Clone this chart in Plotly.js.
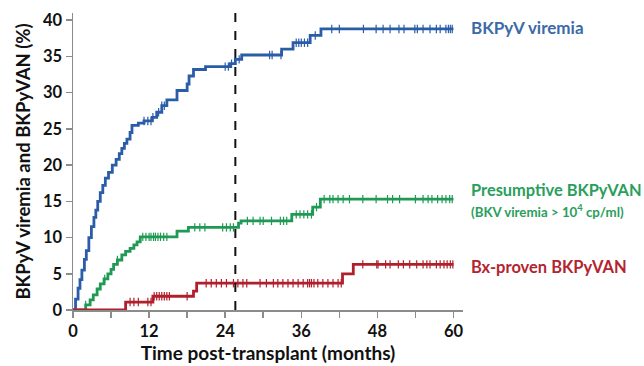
<!DOCTYPE html>
<html>
<head>
<meta charset="utf-8">
<script src="https://cdn.plot.ly/plotly-3.0.1.min.js"></script>
<style>
  html, body { margin: 0; padding: 0; background: #fff; }
  #chart { width: 644px; height: 366px; }
</style>
</head>
<body>
<div id="chart"></div>
<script>
// Cumulative incidence (%) after kidney transplant, step curves with censoring ticks.
const followUpEnd = 60;
const landmarkMonth = 25.6;

// BKPyV viremia
const viremiaTimes = [0, 0.4, 0.8, 1.1, 1.4, 1.8, 2.1, 2.5, 2.9, 3.3, 3.6, 3.9, 4.3, 4.7, 5.1, 5.6, 6.2, 6.8, 7.3, 7.7, 8.1, 8.5, 9.0, 9.3, 10.3, 11.2, 12.5, 13.2, 14.0, 14.8, 16.4, 18.0, 18.3, 19.0, 20.9, 24.8, 25.6, 26.6, 32.9, 34.7, 37.4, 39.1];
const viremiaPct   = [0, 1.5, 3.0, 4.2, 5.5, 7.0, 8.2, 10.0, 11.5, 12.8, 13.8, 15.0, 16.2, 17.2, 18.2, 19.0, 20.0, 20.8, 21.6, 22.3, 23.0, 23.6, 24.5, 25.5, 25.8, 26.1, 26.6, 27.3, 28.2, 29.0, 30.3, 31.2, 32.3, 33.2, 33.6, 34.0, 34.6, 35.2, 36.0, 36.9, 37.9, 38.8];
const viremiaCensored = [11.2, 11.8, 12.3, 12.6, 13.5, 14.0, 14.4, 24.0, 24.5, 25.0, 26.2, 31.0, 31.4, 32.8, 35.2, 35.6, 36.0, 36.5, 37.0, 38.2, 40.8, 42.0, 45.8, 47.8, 48.9, 50.0, 51.4, 52.2, 53.9, 54.3, 55.2, 56.3, 57.3, 57.9, 58.8, 59.2, 59.5, 59.8];

// Presumptive BKPyVAN
const presumptiveTimes = [0, 1.4, 2.0, 2.7, 3.2, 3.8, 4.3, 4.9, 5.5, 6.0, 6.4, 7.0, 7.7, 8.3, 9.0, 9.6, 10.1, 10.6, 16.4, 18.2, 26.1, 26.5, 34.5, 37.8, 39.0];
const presumptivePct   = [0, 0, 0.7, 1.4, 2.1, 2.9, 3.6, 4.3, 5.0, 5.6, 6.3, 6.9, 7.6, 8.1, 8.5, 9.0, 9.4, 10.1, 10.9, 11.4, 12.0, 12.3, 13.2, 14.2, 15.3];
const presumptiveCensored = [2.0, 5.0, 7.0, 11.0, 11.5, 12.0, 12.3, 12.7, 13.0, 13.4, 13.8, 14.3, 14.8, 19.2, 20.0, 20.8, 23.6, 24.2, 24.8, 25.3, 27.5, 28.4, 29.5, 30.0, 31.3, 32.7, 33.2, 33.7, 35.2, 35.8, 36.4, 37.0, 37.6, 38.4, 39.6, 40.5, 41.0, 41.8, 42.6, 43.6, 45.7, 47.8, 49.6, 50.4, 51.5, 54.0, 55.2, 56.0, 56.6, 57.5, 58.2, 58.8, 59.4, 59.8];

// Biopsy-proven BKPyVAN
const provenTimes = [0, 8.3, 12.6, 19.0, 19.5, 42.5, 44.2];
const provenPct   = [0, 1.1, 1.9, 2.6, 3.7, 5.0, 6.3];
const provenCensored = [9.0, 9.6, 10.3, 11.8, 12.3, 12.8, 13.2, 13.6, 14.0, 14.4, 14.8, 15.2, 18.0, 21.0, 21.8, 22.6, 23.4, 24.2, 25.3, 26.0, 26.8, 27.4, 29.5, 30.5, 31.6, 32.3, 33.1, 33.9, 34.7, 35.5, 36.3, 37.0, 37.3, 37.6, 38.0, 38.6, 39.4, 40.2, 41.0, 41.8, 42.3, 45.7, 47.9, 48.1, 49.3, 50.0, 51.3, 52.1, 53.1, 54.2, 55.2, 55.8, 56.3, 57.3, 57.9, 58.5, 59.0, 59.5, 59.9];

const seriesNames = ['BKPyV viremia', 'Presumptive BKPyVAN', 'Bx-proven BKPyVAN'];
const colors = ['#2a5ca8', '#1f9a55', '#b0202c'];
const labelColors = ['#3b6aa6', '#2a9e5c', '#b3242f'];

// value of a right-continuous step function at time t
function stepAt(times, vals, t) {
  let v = vals[0];
  for (let i = 0; i < times.length; i++) { if (times[i] <= t) v = vals[i]; }
  return v;
}

function curveTraces(times, vals, censored, color, name) {
  const xs = times.concat([followUpEnd]);
  const ys = vals.concat([vals[vals.length - 1]]);
  return [
    { x: xs, y: ys, type: 'scatter', mode: 'lines', name: name,
      line: { shape: 'hv', color: color, width: 2.8 }, hoverinfo: 'x+y' },
    { x: censored, y: censored.map(t => stepAt(times, vals, t)), type: 'scatter', mode: 'markers',
      name: name + ' (censored)',
      marker: { symbol: 'line-ns-open', size: 6, color: color, line: { color: color, width: 1.2 } },
      hoverinfo: 'x' }
  ];
}

const data = [].concat(
  curveTraces(viremiaTimes, viremiaPct, viremiaCensored, colors[0], seriesNames[0]),
  curveTraces(presumptiveTimes, presumptivePct, presumptiveCensored, colors[1], seriesNames[1]),
  curveTraces(provenTimes, provenPct, provenCensored, colors[2], seriesNames[2])
);

const baseFont = { family: 'Lato, "Open Sans", sans-serif', color: '#111', weight: 'bold' };
const axisColor = '#8c8c8c';

const layout = {
  width: 644, height: 366,
  margin: { l: 72.6, r: 181, t: 13, b: 55.5 },
  paper_bgcolor: '#fff', plot_bgcolor: '#fff',
  showlegend: false,
  font: baseFont,
  xaxis: {
    range: [0, 61.5], tickvals: [0, 12, 24, 36, 48, 60],
    ticks: 'outside', ticklen: 6, tickwidth: 1.5, tickcolor: axisColor,
    minor: { tickvals: [6, 18, 30, 42, 54], ticks: 'outside', ticklen: 6, tickwidth: 1.5, tickcolor: axisColor },
    showline: true, linecolor: axisColor, linewidth: 1.5,
    showgrid: false, zeroline: false,
    tickfont: Object.assign({}, baseFont, { size: 16.5 }),
    title: { text: 'Time post-transplant (months)', font: Object.assign({}, baseFont, { size: 19 }), standoff: 5 }
  },
  yaxis: {
    range: [0, 41], tickvals: [0, 5, 10, 15, 20, 25, 30, 35, 40],
    ticks: 'outside', ticklen: 6, tickwidth: 1.5, tickcolor: axisColor,
    showline: true, linecolor: axisColor, linewidth: 1.5,
    showgrid: false, zeroline: false,
    tickfont: Object.assign({}, baseFont, { size: 16.5 }),
    title: { text: 'BKPyV viremia and BKPyVAN (%)', font: Object.assign({}, baseFont, { size: 18.5 }), standoff: 7 }
  },
  shapes: [
    { type: 'line', xref: 'x', yref: 'paper', x0: landmarkMonth, x1: landmarkMonth, y0: 0, y1: 1,
      line: { color: '#111', width: 2, dash: 'dash' } }
  ],
  annotations: [
    { xref: 'paper', yref: 'paper', x: 1.015, y: 0.950, xanchor: 'left', yanchor: 'middle', showarrow: false,
      text: seriesNames[0], font: Object.assign({}, baseFont, { size: 17, color: labelColors[0] }) },
    { xref: 'paper', yref: 'paper', x: 1.015, y: 0.405, xanchor: 'left', yanchor: 'middle', showarrow: false,
      text: seriesNames[1], font: Object.assign({}, baseFont, { size: 16.4, color: labelColors[1] }) },
    { xref: 'paper', yref: 'paper', x: 1.015, y: 0.334, xanchor: 'left', yanchor: 'middle', showarrow: false,
      text: '(BKV viremia > 10<sup>4</sup> cp/ml)', font: Object.assign({}, baseFont, { size: 13.3, color: labelColors[1] }) },
    { xref: 'paper', yref: 'paper', x: 1.015, y: 0.146, xanchor: 'left', yanchor: 'middle', showarrow: false,
      text: seriesNames[2], font: Object.assign({}, baseFont, { size: 16.5, color: labelColors[2] }) }
  ]
};

Plotly.newPlot('chart', data, layout, { displayModeBar: false, staticPlot: true });
</script>
</body>
</html>
